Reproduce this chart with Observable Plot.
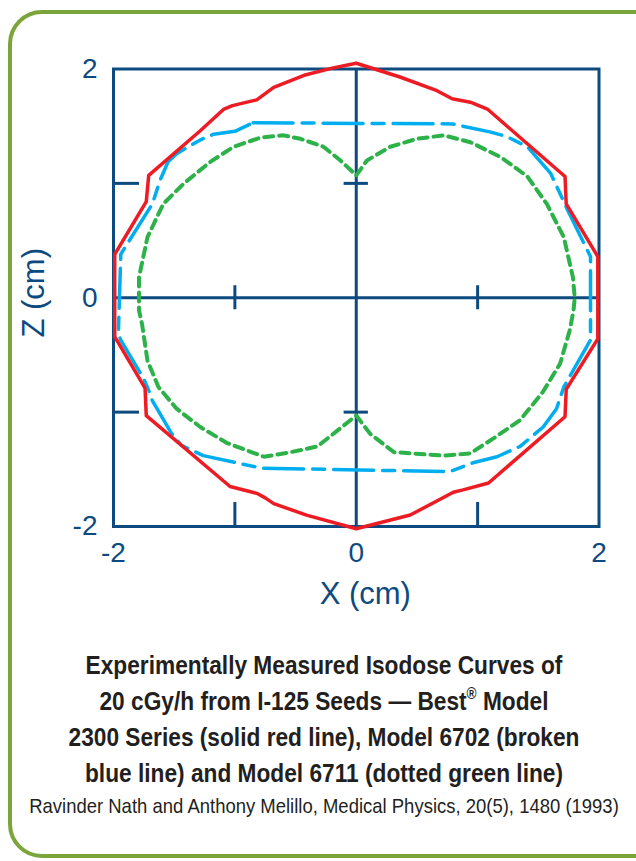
<!DOCTYPE html>
<html>
<head>
<meta charset="utf-8">
<script src="https://cdn.jsdelivr.net/npm/d3@7"></script>
<script src="https://cdn.jsdelivr.net/npm/@observablehq/plot@0.6"></script>
<style>
  html, body { margin: 0; padding: 0; background: #fff; width: 636px; height: 861px; overflow: hidden; }
  #border { position: absolute; left: 8px; top: 10px; width: 680px; height: 848px; border: 4px solid #7ba43a; border-radius: 34px; box-sizing: border-box; }
  #chart { position: absolute; left: 0; top: 0; }
  #title { position: absolute; left: -100px; top: 647px; width: 848px; text-align: center; font-family: "Liberation Sans", Arial, sans-serif; font-weight: bold; font-size: 26px; line-height: 36px; color: #231f20; transform: scaleX(0.873); transform-origin: 424px 0; white-space: nowrap; }
  #cite { position: absolute; left: -100px; top: 794px; width: 848px; text-align: center; font-family: "Liberation Sans", Arial, sans-serif; font-size: 21px; line-height: 24px; color: #231f20; transform: scaleX(0.88); transform-origin: 424px 0; white-space: nowrap; }
  sup { font-size: 0.6em; line-height: 0; vertical-align: 0.7em; }
</style>
</head>
<body>
<div id="border"></div>
<div id="chart"></div>
<div id="title">Experimentally Measured Isodose Curves of<br>20 cGy/h from I-125 Seeds — Best<sup>®</sup> Model<br>2300 Series (solid red line), Model 6702 (broken<br>blue line) and Model 6711 (dotted green line)</div>
<div id="cite">Ravinder Nath and Anthony Melillo, Medical Physics, 20(5), 1480 (1993)</div>
<script>
// Best Model 2300 Series (solid red)
const redX = [0, 0.36, 0.665, 0.79, 0.94, 1.08, 1.72, 1.73, 1.99, 1.99, 1.73, 1.72, 1.09, 0.88, 0.80, 0.445, 0, -0.41, -0.68, -0.75, -0.82, -1.04, -1.73, -1.74, -1.99, -1.99, -1.73, -1.71, -1.285, -1.09, -1.02, -0.90, -0.82, -0.68, -0.43, -0.19];
const redZ = [2.05, 1.93, 1.81, 1.74, 1.71, 1.65, 1.06, 0.82, 0.36, -0.36, -0.80, -1.04, -1.62, -1.68, -1.70, -1.90, -2.02, -1.90, -1.80, -1.75, -1.71, -1.65, -1.03, -0.79, -0.34, 0.38, 0.84, 1.07, 1.46, 1.65, 1.68, 1.71, 1.73, 1.84, 1.945, 2.01];

// Model 6702 (broken blue)
const blueX = [-0.85, 0.79, 1.10, 1.24, 1.41, 1.60, 1.64, 1.74, 1.93, 1.93, 1.71, 1.65, 1.54, 1.35, 1.16, 0.97, 0.77, -0.78, -0.955, -1.26, -1.44, -1.52, -1.68, -1.71, -1.75, -1.94, -1.96, -1.94, -1.68, -1.615, -1.55, -1.48, -1.285, -1.175, -1.0];
const blueZ = [1.53, 1.52, 1.45, 1.41, 1.32, 1.09, 1.00, 0.77, 0.36, -0.37, -0.78, -0.97, -1.13, -1.30, -1.39, -1.44, -1.52, -1.49, -1.45, -1.38, -1.29, -1.19, -0.90, -0.81, -0.71, -0.37, -0.31, 0.38, 0.82, 1.03, 1.19, 1.26, 1.38, 1.43, 1.455];

// Model 6711 (dotted green)
const greenX = [0, 0.088, 0.28, 0.50, 0.72, 0.94, 1.19, 1.41, 1.57, 1.71, 1.785, 1.80, 1.79, 1.76, 1.68, 1.54, 1.35, 1.13, 0.94, 0.72, 0.31, 0.115, 0, -0.13, -0.32, -0.54, -0.76, -1.065, -1.285, -1.48, -1.63, -1.72, -1.765, -1.79, -1.79, -1.72, -1.59, -1.42, -1.2, -1.01, -0.79, -0.60, -0.46, -0.27, -0.13];
const greenZ = [1.07, 1.20, 1.32, 1.39, 1.42, 1.36, 1.23, 1.06, 0.82, 0.53, 0.18, 0.0, -0.11, -0.28, -0.575, -0.82, -1.07, -1.23, -1.36, -1.38, -1.35, -1.19, -1.03, -1.14, -1.30, -1.35, -1.39, -1.27, -1.13, -0.97, -0.78, -0.55, -0.23, -0.11, 0.18, 0.53, 0.82, 1.00, 1.19, 1.32, 1.40, 1.42, 1.39, 1.32, 1.20];

const xTicks = [-2, 0, 2];
const zTicks = [-2, 0, 2];
const minorTicks = [-1, 1];
const xLabel = "X (cm)";
const zLabel = "Z (cm)";

const toRows = (xs, zs, model) => xs.map((x, i) => ({model, x, z: zs[i]}));
const red = toRows(redX, redZ, "2300");
const blue = toRows(blueX, blueZ, "6702");
const green = toRows(greenX, greenZ, "6711");

const navy = "#0c4a7f";
const fmt = d => (d < 0 ? "-" : "") + Math.abs(d);

const chart = Plot.plot({
  width: 636,
  height: 640,
  marginLeft: 113,
  marginRight: 37.5,
  marginTop: 68.5,
  marginBottom: 114,
  x: {domain: [-2, 2], axis: null},
  y: {domain: [-2, 2], axis: null},
  style: {fontSize: "28px", fontFamily: "'Liberation Sans', Arial, sans-serif", color: navy, background: "transparent", overflow: "visible"},
  marks: [
    Plot.ruleX([0], {stroke: navy, strokeWidth: 3}),
    Plot.ruleY([0], {stroke: navy, strokeWidth: 3}),
    Plot.ruleX(minorTicks, {y1: -0.105, y2: 0.105, stroke: navy, strokeWidth: 3}),
    Plot.ruleY(minorTicks, {x1: -0.1, x2: 0.1, stroke: navy, strokeWidth: 3}),
    Plot.ruleY(minorTicks, {x1: -2, x2: -1.786, stroke: navy, strokeWidth: 3}),
    Plot.ruleX(minorTicks, {y1: -2, y2: -1.79, stroke: navy, strokeWidth: 3}),
    Plot.frame({stroke: navy, strokeWidth: 3}),
    Plot.axisX(xTicks, {tickSize: 0, tickPadding: 16, tickFormat: fmt, label: null, fill: navy}),
    Plot.axisY(zTicks, {tickSize: 0, tickPadding: 16, tickFormat: fmt, label: null, fill: navy}),
    Plot.text([xLabel], {frameAnchor: "bottom", textAnchor: "middle", lineAnchor: "top", dy: 55, dx: 9, fill: navy, fontSize: 31}),
    Plot.text([zLabel], {frameAnchor: "left", textAnchor: "middle", lineAnchor: "middle", rotate: -90, dx: -79, dy: -5, fill: navy, fontSize: 31}),
    Plot.line(green, {x: "x", y: "z", curve: "linear-closed", stroke: "#2db24a", strokeWidth: 4, strokeDasharray: "9,6"}),
    Plot.line(blue, {x: "x", y: "z", curve: "linear-closed", stroke: "#00aeef", strokeWidth: 3.5, strokeDasharray: "40,9,12,9"}),
    Plot.line(red, {x: "x", y: "z", curve: "linear-closed", stroke: "#ed1c24", strokeWidth: 3.5})
  ]
});
document.getElementById("chart").appendChild(chart);
</script>
</body>
</html>
